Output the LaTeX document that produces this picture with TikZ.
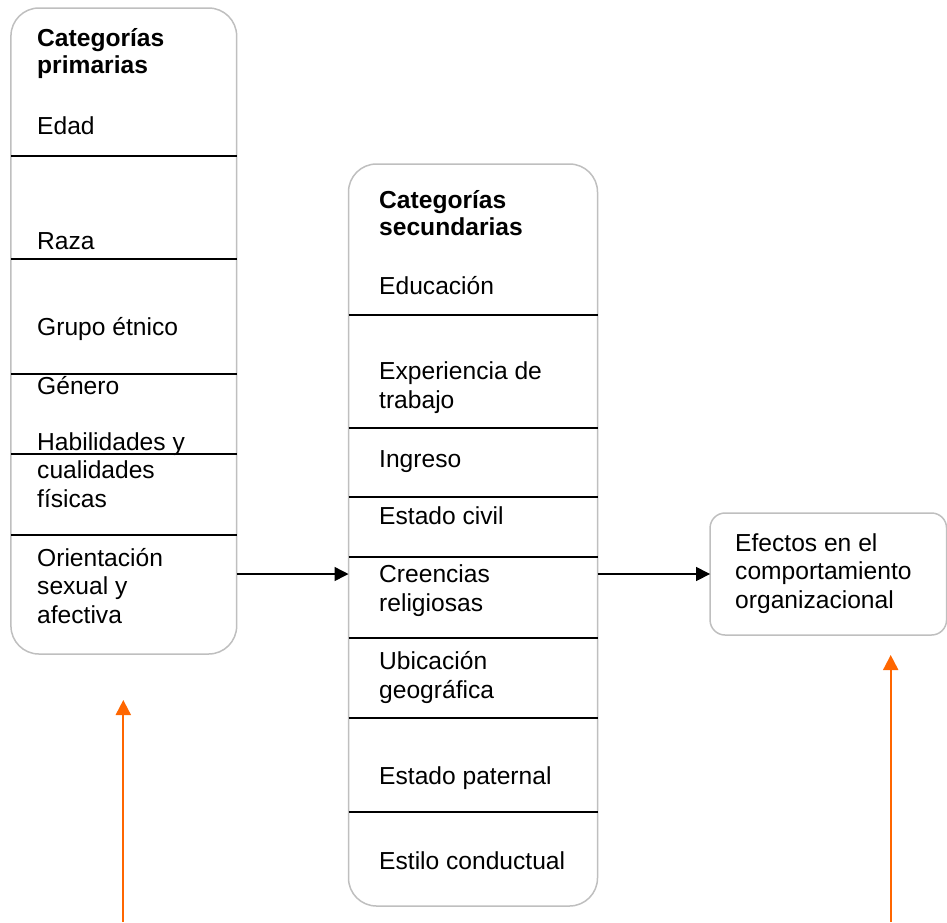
\documentclass[tikz,border=0pt]{standalone}
\usepackage{fontspec}
\setmainfont{Liberation Sans}
\usetikzlibrary{arrows.meta}
\definecolor{borde}{HTML}{BFBFBF}
\definecolor{naranja}{HTML}{FF6600}
\tikzset{
  caja/.style={draw=borde, line width=1.5pt, rounded corners=28pt, inner sep=0pt, outer sep=0pt},
  texto/.style={anchor=base west, align=left, inner sep=0pt, font=\fontsize{24.6}{28.5}\selectfont},
  titulo/.style={texto, font=\fontsize{24.6}{27}\selectfont\bfseries},
  divisor/.style={line width=1.5pt},
  flecha/.style={line width=1.5pt, -{Triangle[length=14pt, width=14pt]}},
  flechanar/.style={naranja, line width=2pt, -{Triangle[length=15pt, width=15pt]}}
}
\begin{document}
\begin{tikzpicture}[x=1pt, y=-1pt]
  \useasboundingbox (0,0) rectangle (947,922);

  % cajas
  \node[caja, minimum width=225.7pt, minimum height=646pt] (prim) at (123.8,331) {};
  \node[caja, minimum width=249pt, minimum height=742pt] (sec) at (473,535) {};
  \node[caja, rounded corners=15pt, minimum width=236.5pt, minimum height=122pt] (efe) at (828.3,574) {};

  \foreach \y in {156,259,374,454,535}
    \draw[divisor] (prim.west |- 0,\y) -- (prim.east |- 0,\y);
  \foreach \y in {315,428,497,557,638,718,812}
    \draw[divisor] (sec.west |- 0,\y) -- (sec.east |- 0,\y);

  % categorias primarias (base = ultima linea)
  \node[titulo] (tprim) at (37,73.7) {Categorías\\primarias};
  \node[texto] (edad) at (37,134) {Edad};
  \node[texto] (raza) at (37,249) {Raza};
  \node[texto] (etnia) at (37,335) {Grupo étnico};
  \node[texto] (genero) at (37,394) {Género};
  \node[texto] (habil) at (37,507) {Habilidades y\\cualidades\\físicas};
  \node[texto] (orient) at (37,623) {Orientación\\sexual y\\afectiva};

  % categorias secundarias
  \node[titulo] (tsec) at (379,235) {Categorías\\secundarias};
  \node[texto] (educ) at (379,294) {Educación};
  \node[texto] (exper) at (379,408) {Experiencia de\\trabajo};
  \node[texto] (ingreso) at (379,467) {Ingreso};
  \node[texto] (civil) at (379,524) {Estado civil};
  \node[texto] (creen) at (379,611) {Creencias\\religiosas};
  \node[texto] (ubic) at (379,698) {Ubicación\\geográfica};
  \node[texto] (pater) at (379,784) {Estado paternal};
  \node[texto] (estilo) at (379,869) {Estilo conductual};

  \node[texto] (tefe) at (735,608) {Efectos en el\\comportamiento\\organizacional};

  \draw[flecha] (prim.east |- efe.west) -- (sec.west |- efe.west);
  \draw[flecha] (sec.east |- efe.west) -- (efe.west);

  \coordinate (pieizq) at (123.3,922);
  \coordinate (puntaizq) at (123.3,700);
  \coordinate (pieder) at (890.7,922);
  \coordinate (puntader) at (890.7,655);
  \draw[flechanar] (pieizq) -- (puntaizq);
  \draw[flechanar] (pieder) -- (puntader);
\end{tikzpicture}
\end{document}
